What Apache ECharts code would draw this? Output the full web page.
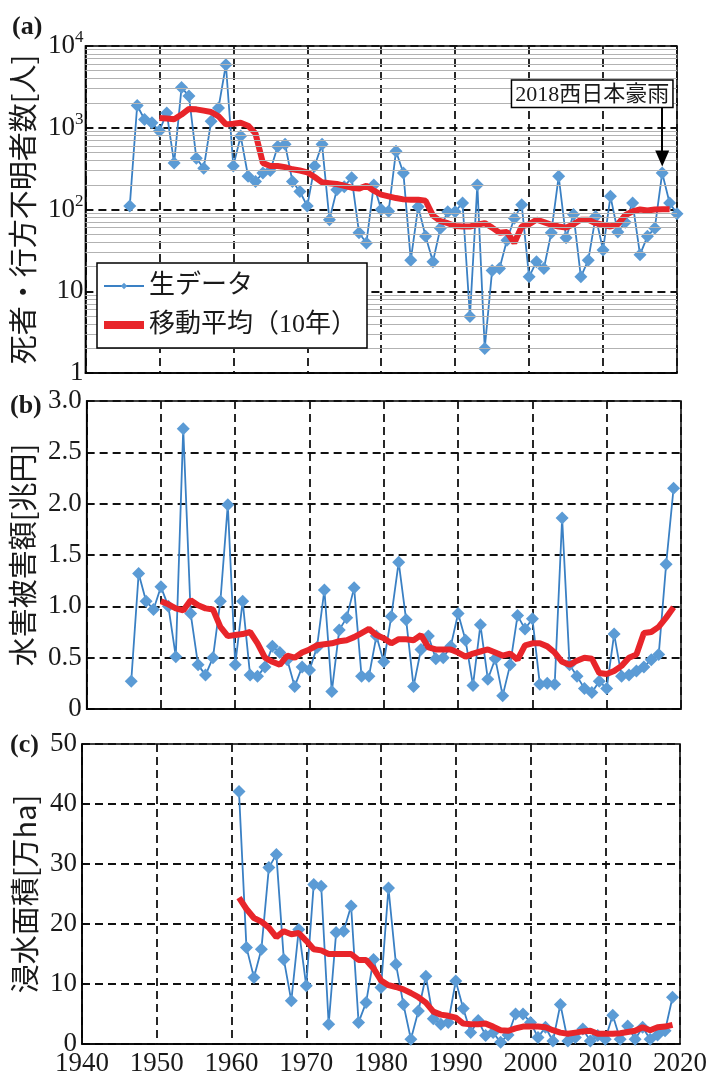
<!DOCTYPE html>
<html><head><meta charset="utf-8">
<script src="https://cdn.jsdelivr.net/npm/echarts@6/dist/echarts.min.js"></script>
<style>html,body{margin:0;padding:0;background:#fff}#c{width:710px;height:1077px}</style>
</head><body><div id="c"></div>
<script>
// ---------- data ----------
const xTicks = [1940, 1950, 1960, 1970, 1980, 1990, 2000, 2010, 2020];
const logTicksA = [1, 10, 100, 1000, 10000];
const minorMultipliers = [2, 3, 4, 5, 6, 7, 8, 9];

// (a) deaths & missing persons
const rawStartA = 1946;
const rawA = [110, 1870, 1260, 1150, 910, 1520, 370, 3100, 2450, 425,
  320, 1200, 1750, 5900, 340, 790, 255, 220, 280, 300,
  590, 630, 220, 166, 110, 340, 630, 75, 175, 190,
  245, 52, 39, 200, 100, 95, 515, 280, 24, 108,
  47, 23, 59, 94, 94, 120, 4.9, 200, 2.0, 18,
  19, 42, 78, 114, 15, 23, 19, 52, 255, 45,
  87, 15, 24, 82, 32, 145, 53, 70, 120, 28,
  47, 59, 280, 120, 89];
const maStartA = 1950;
const maA = [1320, 1300, 1270, 1450, 1700, 1680, 1620, 1560, 1380, 1100,
  1120, 1150, 1060, 850, 370, 340, 340, 330, 310, 300,
  285, 250, 215, 210, 205, 195, 185, 180, 195, 170,
  152, 145, 138, 133, 132, 132, 128, 84, 72, 68,
  63, 62, 62, 65, 68, 60, 52, 53, 39, 62,
  66, 75, 70, 65, 62, 60, 66, 75, 75, 68,
  65, 62, 66, 85, 95, 100, 97, 100, 101, 101];

// (b) flood damage [trillion yen]
const rawStartB = 1946;
const rawB = [0.27, 1.32, 1.05, 0.97, 1.19, 1.00, 0.51, 2.73, 0.93, 0.43,
  0.33, 0.50, 1.05, 1.99, 0.43, 1.05, 0.33, 0.32, 0.41, 0.61,
  0.55, 0.48, 0.22, 0.41, 0.38, 0.60, 1.16, 0.17, 0.77, 0.89,
  1.18, 0.32, 0.32, 0.71, 0.46, 0.90, 1.43, 0.87, 0.22, 0.58,
  0.71, 0.49, 0.50, 0.61, 0.93, 0.67, 0.23, 0.82, 0.29, 0.49,
  0.13, 0.43, 0.91, 0.78, 0.88, 0.24, 0.25, 0.24, 1.86, 0.43,
  0.32, 0.20, 0.16, 0.27, 0.20, 0.73, 0.32, 0.33, 0.37, 0.41,
  0.48, 0.53, 1.41, 2.15];
const maStartB = 1950;
const maB = [1.05, 1.02, 0.98, 0.96, 1.06, 1.01, 0.98, 0.97, 0.80, 0.71,
  0.72, 0.73, 0.75, 0.64, 0.50, 0.46, 0.43, 0.52, 0.50, 0.55,
  0.58, 0.62, 0.63, 0.64, 0.66, 0.67, 0.70, 0.74, 0.78, 0.72,
  0.69, 0.64, 0.68, 0.68, 0.67, 0.72, 0.60, 0.58, 0.58, 0.58,
  0.55, 0.51, 0.54, 0.56, 0.58, 0.55, 0.52, 0.54, 0.48, 0.62,
  0.64, 0.64, 0.61, 0.55, 0.46, 0.43, 0.47, 0.50, 0.49, 0.35,
  0.34, 0.37, 0.42, 0.50, 0.53, 0.74, 0.75, 0.80, 0.89, 0.99];

// (c) inundated area [10^4 ha]
const rawStartC = 1961;
const rawC = [42.1, 16.1, 11.1, 15.8, 29.4, 31.6, 14.1, 7.2, 19.1, 9.7,
  26.6, 26.3, 3.3, 18.6, 18.8, 23.0, 3.6, 6.9, 14.1, 9.4,
  26.0, 13.3, 6.6, 0.8, 5.5, 11.3, 4.2, 3.3, 3.6, 10.5,
  5.9, 1.9, 3.9, 1.4, 1.9, 0.3, 1.5, 5.0, 5.0, 3.6,
  1.1, 2.8, 0.5, 6.6, 0.5, 1.1, 2.5, 0.5, 1.4, 0.8,
  4.8, 0.8, 3.0, 0.8, 2.8, 0.8, 1.5, 2.2, 7.8];
const maStartC = 1961;
const maC = [24.4, 22.5, 21.0, 20.4, 19.4, 17.8, 18.8, 18.3, 18.5, 17.2,
  15.8, 15.6, 15.0, 15.0, 15.0, 15.0, 14.0, 14.0, 12.6, 10.6,
  9.8, 9.5, 9.1, 8.5, 7.8, 6.9, 5.4, 4.9, 4.7, 4.4,
  3.4, 3.3, 3.3, 3.4, 2.9, 2.3, 2.2, 2.6, 2.9, 2.9,
  2.9, 2.8, 2.3, 1.9, 1.7, 1.9, 2.1, 2.2, 1.7, 1.7,
  1.7, 1.8, 2.0, 2.2, 2.8, 2.3, 2.8, 2.9, 3.2];

const annotYear = 2018;
const annotText = '2018西日本豪雨';
const annotFrom = 1780, annotTo = 420;

const names = ['生データ', '移動平均（10年）'];
const yNames = ['死者・行方不明者数[人]', '水害被害額[兆円]', '浸水面積[万ha]'];
const panelTags = ['(a)', '(b)', '(c)'];

// ---------- helpers ----------
const pairs = (start, arr) => arr.map((v, i) => [start + i, v]);
const SERIF = '"Liberation Serif","Times New Roman",serif';
const MIX = '"Liberation Serif","Noto Sans CJK JP",sans-serif';
const CJK = '"Noto Sans CJK JP","Noto Sans CJK SC",sans-serif';
const TXT = '#1a1a1a';
const dash = { color: '#111', type: [8, 5], width: 1.8 };
const blueLine = '#3a80c4', blueMark = '#5b9bd5', red = '#e8252a';

const minorLines = [];
logTicksA.slice(0, -1).forEach(d => minorMultipliers.forEach(m => minorLines.push({ yAxis: d * m })));

const grids = [
  { left: 83, right: 33, top: 46, height: 327 },
  { left: 82, right: 29, top: 401, height: 308 },
  { left: 82, right: 28, top: 744, height: 301 }
].map(g => Object.assign(g, { show: true, borderColor: '#000', borderWidth: 1.5, backgroundColor: 'transparent', containLabel: false }));

const xAxes = [0, 1, 2].map(i => ({
  type: 'value', gridIndex: i, min: xTicks[0], max: xTicks[xTicks.length - 1], interval: 10,
  axisLine: { show: true, lineStyle: { color: '#000', width: 1.5 } },
  axisTick: { show: false },
  splitLine: { show: true, lineStyle: dash },
  axisLabel: { show: i === 2, fontFamily: SERIF, fontSize: 27, color: TXT, margin: 6, formatter: v => String(v) }
}));

const nameStyle = { fontFamily: CJK, fontSize: 29, color: TXT };
const yAxes = [
  {
    type: 'log', logBase: 10, gridIndex: 0, min: 1, max: 10000,
    name: yNames[0], nameLocation: 'middle', nameRotate: 90, nameGap: 42, nameTextStyle: nameStyle,
    axisLine: { show: true, lineStyle: { color: '#000', width: 1.5 } },
    axisTick: { show: false },
    splitLine: { show: true, lineStyle: dash },
    axisLabel: {
      margin: 2,
      formatter: v => {
        const e = Math.round(Math.log10(v));
        return e >= 2 ? '{b|10}{s|' + e + '}' : (e === 1 ? '{b|10}' : '{b|1}');
      },
      rich: {
        b: { fontFamily: SERIF, fontSize: 27, color: TXT },
        s: { fontFamily: SERIF, fontSize: 17, color: TXT, padding: [0, 0, 16, 0] }
      }
    }
  },
  {
    type: 'value', gridIndex: 1, min: 0, max: 3, interval: 0.5,
    name: yNames[1], nameLocation: 'middle', nameRotate: 90, nameGap: 44, nameTextStyle: nameStyle,
    axisLine: { show: true, lineStyle: { color: '#000', width: 1.5 } },
    axisTick: { show: false },
    splitLine: { show: true, lineStyle: dash },
    axisLabel: { fontFamily: SERIF, fontSize: 27, color: TXT, margin: 5, formatter: v => v === 0 ? '0' : v.toFixed(1) }
  },
  {
    type: 'value', gridIndex: 2, min: 0, max: 50, interval: 10,
    name: yNames[2], nameLocation: 'middle', nameRotate: 90, nameGap: 42, nameTextStyle: nameStyle,
    axisLine: { show: true, lineStyle: { color: '#000', width: 1.5 } },
    axisTick: { show: false },
    splitLine: { show: true, lineStyle: dash },
    axisLabel: { fontFamily: SERIF, fontSize: 27, color: TXT, margin: 5 }
  }
];

const rawSeries = (i, data, extra) => Object.assign({
  name: names[0], type: 'line', xAxisIndex: i, yAxisIndex: i, data,
  symbol: 'diamond', symbolSize: 13, showSymbol: true,
  lineStyle: { color: blueLine, width: 1.8 },
  itemStyle: { color: blueMark },
  emphasis: { disabled: true }, z: 3
}, extra || {});
const maSeries = (i, data) => ({
  name: names[1], type: 'line', xAxisIndex: i, yAxisIndex: i, data,
  symbol: 'none', lineStyle: { color: red, width: 6 }, itemStyle: { color: red },
  emphasis: { disabled: true }, z: 4
});

const series = [
  {
    name: 'minor', type: 'line', xAxisIndex: 0, yAxisIndex: 0, data: [], silent: true, z: 1,
    markLine: { silent: true, symbol: 'none', animation: false, label: { show: false },
      lineStyle: { color: '#b2b2b2', type: 'solid', width: 1 }, emphasis: { disabled: true }, data: minorLines }
  },
  rawSeries(0, pairs(rawStartA, rawA), {
    markLine: {
      silent: true, symbol: ['none', 'triangle'], symbolSize: [14, 16], animation: false,
      label: { show: false }, lineStyle: { color: '#000', type: 'solid', width: 2 },
      data: [[{ coord: [annotYear, annotFrom] }, { coord: [annotYear, annotTo] }]]
    },
    markPoint: {
      silent: true, animation: false,
      data: [{
        coord: [annotYear, annotFrom], symbol: 'rect', symbolSize: 1, itemStyle: { color: 'rgba(0,0,0,0)' },
        label: {
          show: true, position: 'top', distance: 0, offset: [-70, 0], formatter: annotText,
          fontFamily: MIX, fontSize: 22, color: TXT, backgroundColor: '#fff',
          borderColor: '#000', borderWidth: 1.5, padding: [3, 3, 1, 3]
        }
      }]
    }
  }),
  maSeries(0, pairs(maStartA, maA)),
  rawSeries(1, pairs(rawStartB, rawB)),
  maSeries(1, pairs(maStartB, maB)),
  rawSeries(2, pairs(rawStartC, rawC)),
  maSeries(2, pairs(maStartC, maC))
];

const option = {
  animation: false,
  backgroundColor: '#fff',
  title: [
    { text: panelTags[0], left: 12, top: 14 },
    { text: panelTags[1], left: 10, top: 393 },
    { text: panelTags[2], left: 10, top: 732 }
  ].map(t => Object.assign(t, { padding: 0, textStyle: { fontFamily: SERIF, fontWeight: 'bold', fontSize: 26, color: TXT } })),
  legend: {
    data: [{ name: names[0] }, { name: names[1], icon: 'rect' }],
    orient: 'vertical', left: 97, top: 263,
    padding: [10, 10, 10, 6], itemGap: 13, itemWidth: 40, itemHeight: 8,
    backgroundColor: '#fff', borderColor: '#000', borderWidth: 1.5,
    textStyle: { fontFamily: MIX, fontSize: 26, color: TXT },
    selectedMode: false, z: 10
  },
  grid: grids,
  xAxis: xAxes,
  yAxis: yAxes,
  series
};

const chart = echarts.init(document.getElementById('c'), null, { renderer: 'canvas' });
chart.setOption(option);
</script>
</body></html>
